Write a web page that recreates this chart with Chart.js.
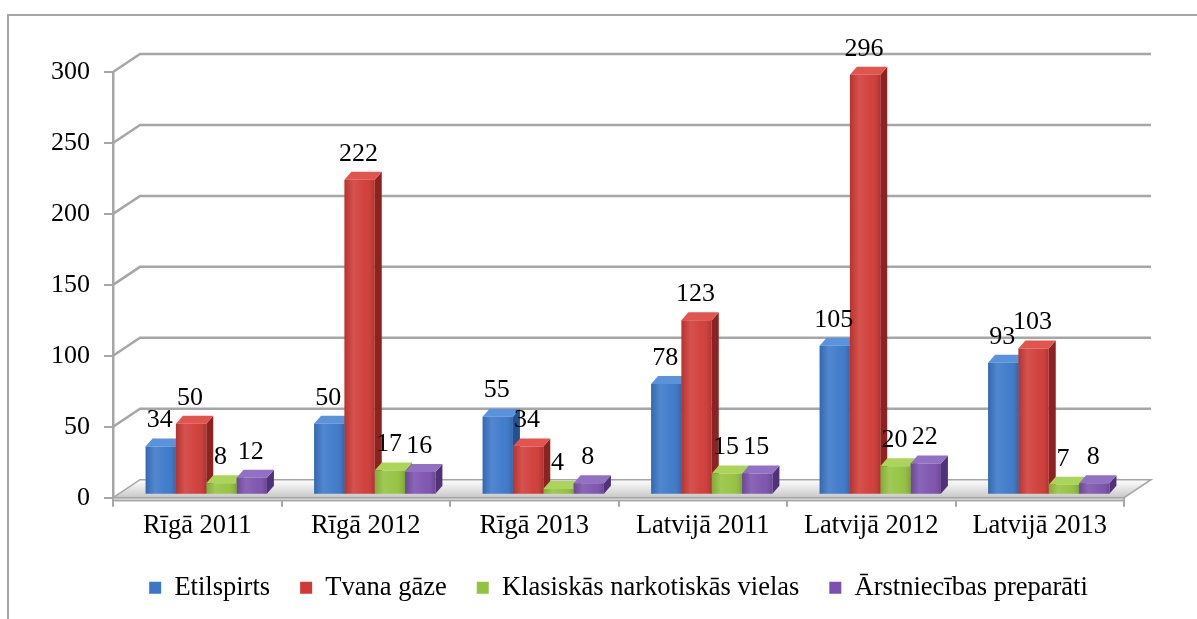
<!DOCTYPE html>
<html>
<head>
<meta charset="utf-8">
<script src="https://cdn.jsdelivr.net/npm/chart.js@4.4.1/dist/chart.umd.min.js"></script>
<style>
  html, body { margin: 0; padding: 0; background: #fff; }
</style>
</head>
<body>
<canvas id="chart" width="1197" height="619"></canvas>
<script>
const categories = ["Rīgā 2011", "Rīgā 2012", "Rīgā 2013", "Latvijā 2011", "Latvijā 2012", "Latvijā 2013"];
const seriesNames = ["Etilspirts", "Tvana gāze", "Klasiskās narkotiskās vielas", "Ārstniecības preparāti"];
const etilspirts = [34, 50, 55, 78, 105, 93];
const tvanaGaze = [50, 222, 34, 123, 296, 103];
const klasiskas = [8, 17, 4, 15, 20, 7];
const arstniecibas = [12, 16, 8, 15, 22, 8];
const yMax = 300;
const yStep = 50;

const frontColors = ["#3a77c9", "#cf3a36", "#93c23e", "#7b51ad"];
const sideColors = ["#23508f", "#8c2320", "#66891f", "#4f3278"];
const topColors = ["#5a92dc", "#e2554f", "#abd559", "#9270c4"];

const FONT = "'Liberation Serif', 'Times New Roman', serif";
const GRID = "#a6a6a6";
// 3D look: back wall offset and bar depth
const WALL_DX = 27, WALL_DY = 18;
const BAR_DX = 9, BAR_DY = -3;
const DEPTH_X = 7, DEPTH_Y = 8;

const wallPlugin = {
  id: "wall3d",
  beforeDraw(chart) {
    const ctx = chart.ctx;
    ctx.save();
    ctx.strokeStyle = GRID;
    ctx.lineWidth = 2;
    ctx.beginPath();
    ctx.moveTo(8, 619);
    ctx.lineTo(8, 15);
    ctx.lineTo(1197, 15);
    ctx.stroke();
    ctx.restore();
  },
  beforeDatasetsDraw(chart) {
    const ctx = chart.ctx;
    const y = chart.scales.y;
    const a = chart.chartArea;
    ctx.save();
    ctx.strokeStyle = GRID;
    ctx.lineWidth = 2.5;
    y.ticks.forEach(t => {
      if (t.value === 0) return;
      const py = y.getPixelForValue(t.value);
      ctx.beginPath();
      ctx.moveTo(a.left, py);
      ctx.lineTo(a.left + WALL_DX, py - WALL_DY);
      ctx.lineTo(a.right + WALL_DX, py - WALL_DY);
      ctx.stroke();
    });
    // floor
    const fy = y.getPixelForValue(0);
    const g = ctx.createLinearGradient(0, fy, 0, fy - WALL_DY);
    g.addColorStop(0, "#c8c8c8");
    g.addColorStop(1, "#ffffff");
    ctx.fillStyle = g;
    ctx.beginPath();
    ctx.moveTo(a.left, fy);
    ctx.lineTo(a.left + WALL_DX, fy - WALL_DY);
    ctx.lineTo(a.right + WALL_DX, fy - WALL_DY);
    ctx.lineTo(a.right, fy);
    ctx.closePath();
    ctx.fill();
    ctx.lineWidth = 1.5;
    ctx.stroke();
    ctx.fillStyle = "#d4d4d4";
    ctx.fillRect(a.left, fy, a.right - a.left, 3);
    ctx.strokeRect(a.left, fy, a.right - a.left, 3);

    // side and top faces of the bars, drawn before the fronts
    ctx.translate(BAR_DX, BAR_DY);
    chart.data.datasets.forEach((ds, i) => {
      chart.getDatasetMeta(i).data.forEach(bar => {
        const x1 = bar.x - bar.width / 2, x2 = bar.x + bar.width / 2;
        const top = bar.y, base = bar.base;
        ctx.fillStyle = sideColors[i];
        ctx.beginPath();
        ctx.moveTo(x2, top);
        ctx.lineTo(x2 + DEPTH_X, top - DEPTH_Y);
        ctx.lineTo(x2 + DEPTH_X, base - DEPTH_Y);
        ctx.lineTo(x2, base);
        ctx.closePath();
        ctx.fill();
        ctx.fillStyle = topColors[i];
        ctx.beginPath();
        ctx.moveTo(x1, top);
        ctx.lineTo(x1 + DEPTH_X, top - DEPTH_Y);
        ctx.lineTo(x2 + DEPTH_X, top - DEPTH_Y);
        ctx.lineTo(x2, top);
        ctx.closePath();
        ctx.fill();
      });
    });
  },
  afterDatasetsDraw(chart) {
    const ctx = chart.ctx;
    // soft shading on the fronts
    chart.data.datasets.forEach((ds, i) => {
      chart.getDatasetMeta(i).data.forEach(bar => {
        const x1 = bar.x - bar.width / 2;
        const g = ctx.createLinearGradient(x1, 0, x1 + bar.width, 0);
        g.addColorStop(0, "rgba(0,0,0,0.12)");
        g.addColorStop(0.3, "rgba(255,255,255,0.12)");
        g.addColorStop(0.7, "rgba(255,255,255,0.04)");
        g.addColorStop(1, "rgba(0,0,0,0.15)");
        ctx.fillStyle = g;
        ctx.fillRect(x1, bar.y, bar.width, bar.base - bar.y);
      });
    });
    ctx.restore();
    // value labels
    ctx.save();
    ctx.font = "26px " + FONT;
    ctx.fillStyle = "#000";
    ctx.textAlign = "center";
    ctx.textBaseline = "middle";
    chart.data.datasets.forEach((ds, i) => {
      chart.getDatasetMeta(i).data.forEach((bar, j) => {
        ctx.fillText(String(ds.data[j]), bar.x + BAR_DX - 1, bar.y + BAR_DY - 26);
      });
    });
    ctx.restore();
  }
};

const seriesValues = [etilspirts, tvanaGaze, klasiskas, arstniecibas];

new Chart(document.getElementById("chart"), {
  type: "bar",
  data: {
    labels: categories,
    datasets: seriesValues.map((vals, i) => ({
      label: seriesNames[i],
      data: vals,
      backgroundColor: frontColors[i],
      borderColor: sideColors[i],
      borderWidth: 0,
      categoryPercentage: 0.72,
      barPercentage: 1.0
    }))
  },
  options: {
    responsive: false,
    animation: false,
    layout: { padding: { top: 72, right: 73, bottom: 8, left: 0 } },
    scales: {
      x: {
        grid: { drawOnChartArea: false, color: GRID, lineWidth: 2, tickLength: 9, offset: true },
        border: { display: true, color: GRID, width: 2 },
        ticks: { color: "#000", font: { family: FONT, size: 26.5 }, padding: 3, maxRotation: 0 }
      },
      y: {
        min: 0,
        max: yMax,
        ticks: { stepSize: yStep, color: "#000", font: { family: FONT, size: 26 }, padding: 14 },
        grid: { drawOnChartArea: false, color: GRID, lineWidth: 2, tickLength: 9 },
        border: { display: true, color: GRID, width: 2.5 },
        afterFit(scale) { scale.width = 113; }
      }
    },
    plugins: {
      legend: {
        position: "bottom",
        fullSize: false,
        labels: {
          boxWidth: 12,
          boxHeight: 12,
          padding: 30,
          color: "#000",
          font: { family: FONT, size: 26.5 }
        }
      },
      tooltip: { enabled: false }
    }
  },
  plugins: [wallPlugin]
});
</script>
</body>
</html>
